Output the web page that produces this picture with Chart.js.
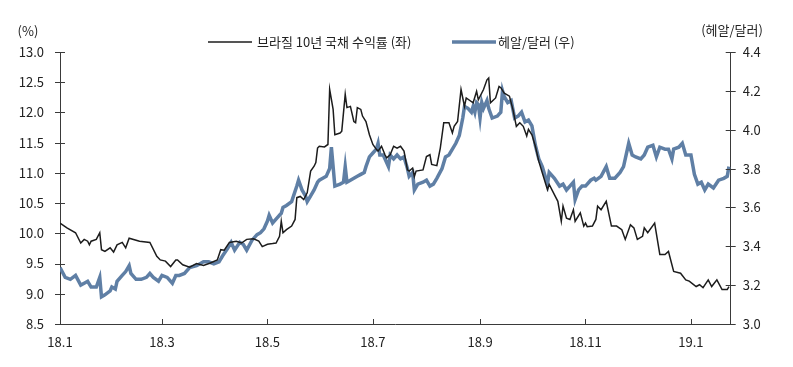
<!DOCTYPE html>
<html>
<head>
<meta charset="utf-8">
<script src="https://cdn.jsdelivr.net/npm/chart.js@4"></script>
<style>
  body { margin: 0; background: #fff; }
  canvas { display: block; }
</style>
</head>
<body>
<canvas id="brlChart" width="793" height="367"></canvas>
<script>
// jours depuis le 1er janvier 2018
const tickDays = [0, 59, 120, 181, 243, 304, 365];
const tickLabels = ['18.1', '18.3', '18.5', '18.7', '18.9', '18.11', '19.1'];

// Brésil 10 ans (%, axe gauche)
const bondDays = [0,4,9,12,14,16,17,18,21,23,24,26,29,31,33,36,38,40,46,52,56,58,61,64,67,68,71,75,79,83,87,91,93,95,98,102,105,108,112,115,117,120,123,125,127,128,129,131,134,136,137,139,141,143,145,147,148,149,150,153,155,156,158,159,162,163,165,166,168,170,171,172,174,175,177,179,181,183,184,186,188,189,191,193,195,197,199,201,202,204,205,206,210,212,214,215,218,220,222,225,227,228,230,232,234,235,239,241,242,245,247,248,249,252,254,255,257,260,262,264,266,268,270,271,273,275,277,279,282,283,286,288,290,291,293,295,297,298,301,303,304,305,308,310,311,313,316,319,322,325,327,330,332,334,337,338,340,344,347,350,352,355,359,362,364,368,370,372,375,377,380,383,386,387];
const bondYield = [10.17,10.09,10.01,9.84,9.90,9.87,9.81,9.87,9.90,10.01,9.73,9.70,9.76,9.69,9.81,9.85,9.76,9.92,9.87,9.85,9.62,9.56,9.54,9.45,9.56,9.56,9.48,9.44,9.50,9.47,9.51,9.56,9.73,9.72,9.85,9.87,9.84,9.90,9.91,9.87,9.78,9.82,9.83,9.84,9.95,10.20,10.01,10.06,10.12,10.23,10.59,10.61,10.56,10.67,11.03,11.11,11.17,11.41,11.44,11.43,11.47,12.38,12.05,11.63,11.66,11.69,12.30,12.08,12.10,11.85,11.83,12.08,12.05,11.94,11.85,11.63,11.47,11.39,11.36,11.44,11.30,11.25,11.30,11.44,11.41,11.44,11.36,11.05,11.03,11.08,10.94,11.03,11.05,11.27,11.30,11.14,11.12,11.41,11.83,11.83,11.66,11.77,11.85,12.38,12.10,12.24,12.16,12.35,12.21,12.38,12.54,12.57,12.16,12.24,12.43,12.41,12.32,12.27,12.05,11.77,11.83,11.77,11.61,11.72,11.63,11.44,11.19,11.00,10.72,10.81,10.64,10.53,10.20,10.45,10.25,10.23,10.39,10.20,10.34,10.12,10.17,10.11,10.12,10.23,10.45,10.39,10.53,10.12,10.12,10.06,9.90,10.14,10.09,9.90,9.95,10.09,10.01,10.17,9.65,9.65,9.70,9.37,9.34,9.23,9.21,9.12,9.15,9.10,9.23,9.12,9.23,9.07,9.07,9.12];

// réal / dollar (axe droit)
const fxDays = [0,3,6,9,12,14,16,18,21,23,24,26,29,30,32,33,36,38,40,41,44,47,50,52,54,57,59,62,65,67,69,72,75,79,81,83,86,89,92,94,97,99,101,104,106,108,111,114,116,118,120,121,123,126,128,129,131,134,137,138,140,142,143,145,147,149,150,152,154,156,157,159,162,164,165,166,168,170,172,174,176,177,179,181,183,184,185,187,190,191,193,195,197,199,201,202,204,205,207,210,212,214,216,218,221,223,225,227,229,231,233,234,236,238,239,240,241,242,243,244,245,247,248,250,253,255,256,257,259,261,263,265,267,269,271,273,275,277,279,281,282,283,286,289,291,293,295,297,298,300,302,304,307,309,310,313,316,318,321,324,326,329,331,333,336,338,340,343,345,347,350,352,354,355,358,360,362,365,367,369,371,373,375,378,381,384,386,387];
const fxRate = [3.29,3.24,3.23,3.25,3.20,3.21,3.22,3.19,3.19,3.24,3.14,3.15,3.17,3.19,3.18,3.22,3.25,3.27,3.30,3.26,3.23,3.23,3.24,3.26,3.24,3.22,3.25,3.24,3.21,3.25,3.25,3.26,3.29,3.30,3.31,3.32,3.32,3.31,3.32,3.35,3.39,3.42,3.38,3.42,3.41,3.38,3.43,3.46,3.47,3.49,3.53,3.56,3.52,3.55,3.57,3.60,3.61,3.63,3.71,3.74,3.69,3.66,3.63,3.66,3.69,3.73,3.74,3.75,3.76,3.80,3.91,3.71,3.72,3.73,3.81,3.73,3.74,3.75,3.76,3.77,3.78,3.81,3.86,3.88,3.90,3.93,3.87,3.87,3.81,3.87,3.85,3.87,3.85,3.86,3.80,3.76,3.78,3.69,3.72,3.73,3.74,3.71,3.72,3.75,3.80,3.86,3.87,3.90,3.93,3.97,4.06,4.12,4.11,4.09,4.12,4.09,4.14,4.13,4.06,4.14,4.11,4.15,4.11,4.06,4.07,4.09,4.20,4.17,4.14,4.15,4.06,4.07,4.09,4.04,4.05,4.02,3.92,3.85,3.81,3.75,3.72,3.78,3.75,3.71,3.72,3.69,3.71,3.73,3.64,3.69,3.71,3.71,3.74,3.75,3.74,3.76,3.81,3.75,3.75,3.78,3.81,3.93,3.87,3.86,3.85,3.87,3.91,3.92,3.86,3.91,3.90,3.90,3.85,3.90,3.91,3.93,3.87,3.87,3.77,3.72,3.73,3.69,3.72,3.70,3.74,3.75,3.76,3.81];

const bondLabel = '브라질 10년 국채 수익률 (좌)';
const fxLabel = '헤알/달러 (우)';
const blackColor = '#1c1c1c';
const blueColor = '#5f7fa5';
const axisColor = '#3a3a3a';

Chart.defaults.font.family = "'Noto Sans CJK KR', 'Noto Sans', sans-serif";
Chart.defaults.font.size = 13;
Chart.defaults.color = '#222';

// petites graduations, légende et unités
const decor = {
    id: 'decor',
    afterDraw(chart) {
        const ctx = chart.ctx;
        const a = chart.chartArea;
        const x = chart.scales.x, yL = chart.scales.yL, yR = chart.scales.yR;
        ctx.save();
        ctx.strokeStyle = axisColor;
        ctx.lineWidth = 1;
        ctx.beginPath();
        yL.ticks.forEach(t => {
            const y = Math.round(yL.getPixelForValue(t.value)) + 0.5;
            ctx.moveTo(a.left - 5, y); ctx.lineTo(a.left + 5, y);
        });
        yR.ticks.forEach(t => {
            const y = Math.round(yR.getPixelForValue(t.value)) + 0.5;
            ctx.moveTo(a.right - 5, y); ctx.lineTo(a.right + 5, y);
        });
        x.ticks.forEach(t => {
            const px = Math.round(x.getPixelForValue(t.value)) + 0.5;
            ctx.moveTo(px, a.bottom); ctx.lineTo(px, a.bottom - 5);
        });
        ctx.stroke();

        // légende
        ctx.font = "13px 'Noto Sans CJK KR', sans-serif";
        ctx.textBaseline = 'middle';
        ctx.fillStyle = '#222';
        ctx.lineWidth = 1.5;
        ctx.strokeStyle = blackColor;
        ctx.beginPath(); ctx.moveTo(208, 42); ctx.lineTo(252, 42); ctx.stroke();
        ctx.textAlign = 'left';
        ctx.fillText(bondLabel, 257, 42);
        ctx.lineWidth = 3.5;
        ctx.strokeStyle = blueColor;
        ctx.beginPath(); ctx.moveTo(452, 42); ctx.lineTo(496, 42); ctx.stroke();
        ctx.fillText(fxLabel, 498, 42);

        // unités des axes
        ctx.textAlign = 'center';
        ctx.fillText('(%)', 28, 31);
        ctx.fillText('(헤알/달러)', 732, 30);
        ctx.restore();
    }
};

const ctx = document.getElementById('brlChart').getContext('2d');
new Chart(ctx, {
    type: 'line',
    data: {
        datasets: [{
            label: bondLabel,
            data: bondDays.map((d, i) => ({ x: d, y: bondYield[i] })),
            borderColor: blackColor,
            borderWidth: 1.5,
            pointRadius: 0,
            tension: 0,
            yAxisID: 'yL'
        }, {
            label: fxLabel,
            data: fxDays.map((d, i) => ({ x: d, y: fxRate[i] })),
            borderColor: blueColor,
            borderWidth: 3.5,
            pointRadius: 0,
            tension: 0,
            yAxisID: 'yR'
        }]
    },
    options: {
        responsive: false,
        animation: false,
        layout: { padding: { top: 52, left: 0, right: 0, bottom: 0 } },
        plugins: {
            legend: { display: false },
            tooltip: { enabled: false }
        },
        scales: {
            x: {
                type: 'linear',
                min: 0,
                max: 388,
                afterBuildTicks: s => { s.ticks = tickDays.map(v => ({ value: v })); },
                afterFit: s => { s.height = 43; },
                grid: { drawOnChartArea: false, drawTicks: false },
                border: { color: axisColor },
                ticks: {
                    autoSkip: false,
                    maxRotation: 0,
                    padding: 10,
                    callback: (v, i) => tickLabels[i]
                }
            },
            yL: {
                position: 'left',
                min: 8.5,
                max: 13,
                afterFit: s => { s.width = 60; },
                grid: { drawOnChartArea: false, drawTicks: false },
                border: { color: axisColor },
                ticks: { stepSize: 0.5, padding: 16, callback: v => v.toFixed(1) }
            },
            yR: {
                position: 'right',
                min: 3.0,
                max: 4.4,
                afterFit: s => { s.width = 62.3; },
                grid: { drawOnChartArea: false, drawTicks: false },
                border: { color: axisColor },
                ticks: { stepSize: 0.2, padding: 12, callback: v => v.toFixed(1) }
            }
        }
    },
    plugins: [decor]
});
</script>
</body>
</html>
